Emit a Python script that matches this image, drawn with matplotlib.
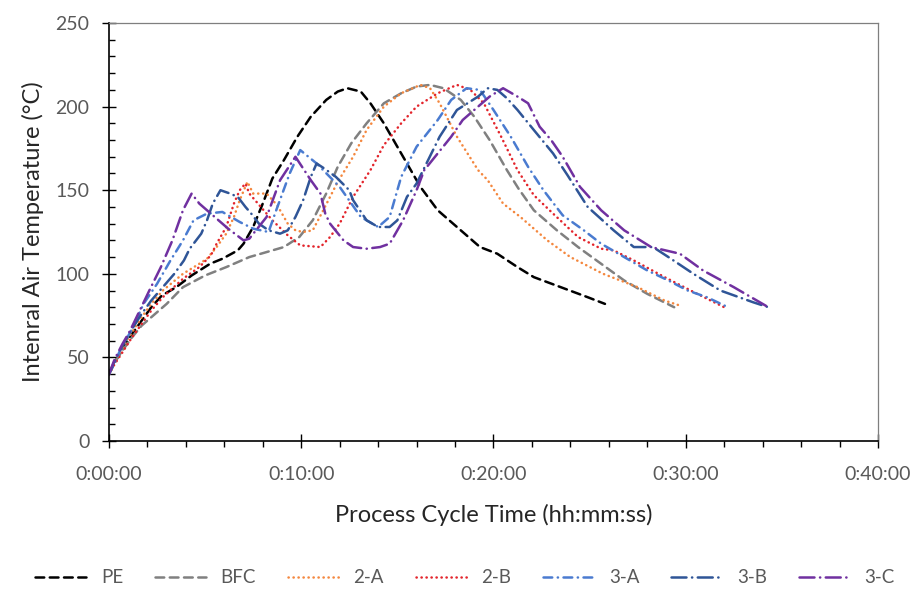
import numpy as np
import matplotlib.pyplot as plt
from matplotlib.ticker import MultipleLocator, FuncFormatter

plt.rcParams['font.family'] = ['Lato', 'DejaVu Sans']

# time in minutes, temperature in degC
pe_t = [0, 0.3, 0.7, 1.2, 1.7, 2.2, 2.75, 3.5, 4.3, 5.26, 5.9, 6.7, 7.0, 7.5, 8.0, 8.5, 9.1, 9.8,
        10.5, 11.3, 11.9, 12.4, 13.1, 13.6, 14.3, 15.0, 15.7, 16.2, 17.1, 18.1, 19.3, 20.2, 21.25,
        22.1, 23.5, 24.9, 25.8]
pe_y = [40, 47, 55, 64, 72, 80, 87, 92, 99, 106, 109, 114, 118, 128, 142, 157, 168, 182,
        194, 204, 209, 211, 209, 202, 190, 176, 162, 152, 138, 128, 116, 112, 104,
        98, 92, 86, 82]

bfc_t = [0, 0.3, 0.7, 1.2, 1.7, 2.2, 3.0, 3.85, 5.0, 6.1, 7.3, 8.5, 9.1, 9.9, 10.6, 11.3, 11.9,
         12.6, 13.4, 14.3, 15.2, 16.0, 16.7, 17.4, 18.3, 19.0, 19.8, 20.7, 21.3, 22.1, 23.3, 24.4,
         25.6, 26.8, 28.0, 29.4]
bfc_y = [40, 47, 54, 62, 69, 74, 82, 92, 99, 104, 110, 114, 116, 122, 132, 148, 164,
         178, 190, 202, 208, 212, 213, 211, 204, 194, 180, 162, 151, 138, 126, 116,
         106, 96, 88, 80]

a2_t = [0, 0.3, 0.7, 1.2, 1.7, 2.2, 2.8, 3.85, 4.7, 5.1, 5.6, 6.1, 6.5, 6.8, 7.2, 7.5, 8.2, 8.75,
        9.3, 9.7, 10.1, 10.6, 11.1, 11.9, 12.7, 13.4, 14.3, 15.2, 16.2, 16.7, 17.2, 18.1, 19.2,
        19.7, 20.5, 21.4, 22.8, 24.0, 25.7, 27.5, 28.9, 29.7]
a2_y = [40, 47, 56, 65, 74, 82, 90, 100, 106, 109, 116, 124, 134, 144, 155, 148, 148, 141,
        130, 126, 125, 126, 137, 155, 170, 186, 200, 208, 213, 211, 202, 182, 162,
        156, 142, 134, 120, 110, 100, 92, 84, 81]

b2_t = [0, 0.3, 0.7, 1.2, 1.7, 2.2, 2.8, 3.85, 4.7, 5.3, 5.6, 6.1, 6.5, 6.8, 7.1, 7.3, 7.9, 8.5,
        9.3, 9.95, 11.0, 11.5, 12.0, 12.7, 13.6, 14.3, 15.2, 16.0, 17.1, 18.1, 18.8, 19.5, 20.4,
        21.25, 22.1, 23.1, 24.4, 25.6, 26.25, 27.3, 28.9, 30.6, 32.0]
b2_y = [40, 46, 53, 62, 70, 78, 86, 97, 104, 111, 118, 128, 142, 150, 154, 148, 140, 132,
        123, 117, 116, 122, 130, 146, 162, 177, 190, 200, 208, 213, 210, 202, 182,
        162, 147, 136, 122, 115, 114, 108, 98, 88, 80]

a3_t = [0, 0.3, 0.57, 1.25, 1.8, 2.5, 3.2, 3.85, 4.4, 5.1, 5.9, 6.8, 7.5, 8.3, 8.7, 9.4, 9.95,
        10.8, 12.0, 13.1, 14.0, 14.6, 15.2, 16.0, 17.1, 17.8, 18.6, 19.3, 20.0, 20.9, 21.8, 22.6,
        23.6, 24.7, 25.6, 26.8, 28.0, 29.1, 30.1, 31.1, 32.2]
a3_y = [40, 47, 54, 68, 82, 94, 108, 120, 132, 136, 137, 131, 127, 125, 138, 160, 174,
        166, 152, 134, 128, 134, 158, 176, 192, 204, 211, 210, 198, 182, 164, 150,
        135, 126, 118, 110, 102, 96, 90, 86, 80]

b3_t = [0, 0.3, 0.7, 1.2, 1.7, 2.2, 2.8, 3.4, 3.9, 4.2, 4.8, 5.1, 5.4, 5.8, 6.3, 6.7, 7.1, 7.4,
        7.8, 8.3, 8.9, 9.3, 9.7, 10.1, 10.5, 10.8, 11.2, 11.8, 12.5, 12.7, 13.4, 14.0, 14.6, 15.0,
        15.5, 16.0, 16.6, 17.2, 18.1, 19.2, 19.7, 20.2, 20.7, 21.25, 22.1, 23.1, 23.85, 24.9,
        26.25, 27.3, 28.3, 29.1, 30.4, 31.8, 33.5, 34.3]
b3_y = [40, 48, 57, 67, 76, 84, 92, 100, 108, 115, 124, 132, 142, 150, 148, 146, 140, 136,
        130, 126, 124, 126, 134, 144, 158, 166, 163, 158, 150, 144, 132, 128, 128, 132,
        146, 154, 168, 182, 198, 206, 211, 210, 205, 198, 186, 172, 159, 140,
        126, 116, 116, 110, 100, 90, 83, 80]

c3_t = [0, 0.3, 0.7, 1.1, 1.6, 2.1, 2.7, 3.3, 3.85, 4.3, 4.7, 5.1, 5.9, 6.2, 7.0, 7.3, 8.2, 8.9,
        9.7, 10.5, 11.0, 11.25, 11.5, 12.2, 12.7, 13.4, 14.1, 14.6, 15.3, 16.0, 16.4, 17.1, 17.8,
        18.4, 19.2, 19.8, 20.5, 21.25, 21.8, 22.4, 23.0, 23.6, 24.5, 25.6, 26.8, 28.2, 29.7,
        30.9, 32.5, 34.3]
c3_y = [40, 49, 58, 66, 78, 90, 104, 120, 138, 148, 142, 138, 130, 127, 120, 121, 134, 156,
        170, 156, 148, 136, 130, 120, 116, 115, 116, 118, 132, 150, 162, 172, 182,
        192, 200, 206, 211, 206, 202, 188, 180, 170, 152, 138, 126, 116, 112,
        102, 92, 80]

labels = ['PE', 'BFC', '2-A', '2-B', '3-A', '3-B', '3-C']
series = [(pe_t, pe_y), (bfc_t, bfc_y), (a2_t, a2_y), (b2_t, b2_y),
          (a3_t, a3_y), (b3_t, b3_y), (c3_t, c3_y)]
colors = ['#000000', '#808080', '#F4873E', '#E3242B', '#4A7BD0', '#2F5597', '#7030A0']
styles = [(0, (3.5, 2.2)), (0, (3.5, 2.2)), (0, (0.1, 1.9)), (0, (0.1, 1.9)),
          (0, (3.5, 2.2, 0.1, 2.2)), (0, (6, 2.2, 0.1, 2.2)), (0, (6, 2.2, 0.1, 2.2))]

fig = plt.figure(figsize=(9.21, 5.92), dpi=100)
ax = fig.add_axes([0.1183, 0.2551, 0.835, 0.706])

for (t, y), lab, c, ls in zip(series, labels, colors, styles):
    ax.plot(t, y, color=c, linestyle=ls, lw=1.8, label=lab,
            dash_capstyle='round', solid_capstyle='round')

ax.set_xlim(0, 40)
ax.set_ylim(0, 250)


def hms(m, pos):
    s = int(round(m * 60))
    return f"{s // 3600}:{(s % 3600) // 60:02d}:{s % 60:02d}"


ax.xaxis.set_major_locator(MultipleLocator(10))
ax.xaxis.set_minor_locator(MultipleLocator(2))
ax.xaxis.set_major_formatter(FuncFormatter(hms))
ax.yaxis.set_major_locator(MultipleLocator(50))
ax.yaxis.set_minor_locator(MultipleLocator(10))

ax.tick_params(axis='both', which='major', direction='inout', length=10, width=1,
               color='black', labelsize=14, labelcolor='#595959')
ax.tick_params(axis='x', which='major', pad=13)
ax.tick_params(axis='y', which='major', pad=9)
ax.tick_params(axis='x', which='minor', direction='out', length=4, width=1, color='black')
ax.tick_params(axis='y', which='minor', direction='in', length=4, width=1, color='black')

for s in ['left', 'bottom']:
    ax.spines[s].set_color('black')
    ax.spines[s].set_linewidth(1.2)
for s in ['top', 'right']:
    ax.spines[s].set_color('#7f7f7f')
    ax.spines[s].set_linewidth(0.9)

ax.set_xlabel('Process Cycle Time (hh:mm:ss)', fontsize=17, color='#262626', labelpad=15)
ax.set_ylabel('Intenral Air Temperature (°C)', fontsize=17, color='#262626', labelpad=8)

fig.legend(loc='center', bbox_to_anchor=(0.505, 0.024), ncol=7, frameon=False,
           fontsize=13.5, handlelength=2.7, columnspacing=1.7, handletextpad=0.8,
           labelcolor='#595959')

fig.savefig('out.png', dpi=100)
